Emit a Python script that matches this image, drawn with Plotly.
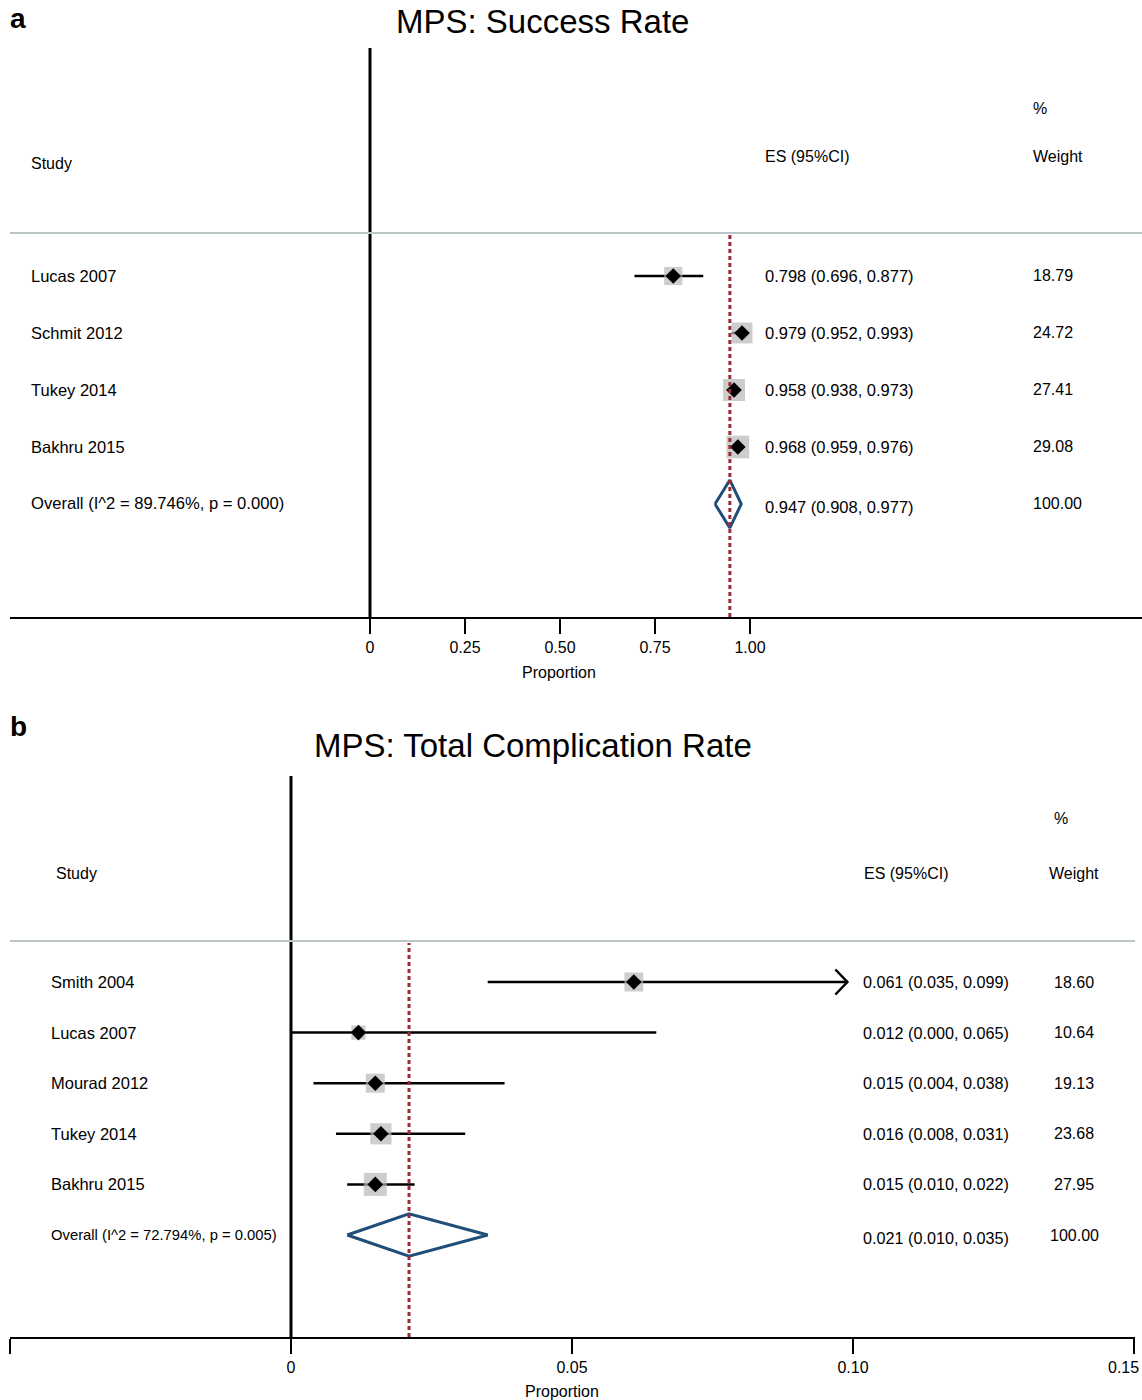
import math
import plotly.graph_objects as go

W, H = 1142, 1400
FONT = "Liberation Sans, Arial, sans-serif"

# ---------------- Panel a data ----------------
a_title = "MPS: Success Rate"
a_studies = ["Lucas 2007", "Schmit 2012", "Tukey 2014", "Bakhru 2015"]
a_es = [0.798, 0.979, 0.958, 0.968]
a_lo = [0.696, 0.952, 0.938, 0.959]
a_hi = [0.877, 0.993, 0.973, 0.976]
a_wt = [18.79, 24.72, 27.41, 29.08]
a_arrow = [False, False, False, False]
a_overall = [0.947, 0.908, 0.977]
a_overall_wt = 100.00
a_i2 = 89.746
a_p = 0.000
a_ticks = [0, 0.25, 0.50, 0.75, 1.00]
a_ticklabels = ["0", "0.25", "0.50", "0.75", "1.00"]

# ---------------- Panel b data ----------------
b_title = "MPS: Total Complication Rate"
b_studies = ["Smith 2004", "Lucas 2007", "Mourad 2012", "Tukey 2014", "Bakhru 2015"]
b_es = [0.061, 0.012, 0.015, 0.016, 0.015]
b_lo = [0.035, 0.000, 0.004, 0.008, 0.010]
b_hi = [0.099, 0.065, 0.038, 0.031, 0.022]
b_wt = [18.60, 10.64, 19.13, 23.68, 27.95]
b_arrow = [True, False, False, False, False]
b_overall = [0.021, 0.010, 0.035]
b_overall_wt = 100.00
b_i2 = 72.794
b_p = 0.005
b_ticks = [-0.05, 0, 0.05, 0.10, 0.15]
b_ticklabels = ["", "0", "0.05", "0.10", "0.15"]


def pyp(p):
    return 1 - p / H


def pxp(p):
    return p / W


panels = [
    dict(
        letter="a", title=a_title, studies=a_studies, es=a_es, lo=a_lo, hi=a_hi,
        wt=a_wt, arrow=a_arrow, overall=a_overall, owt=a_overall_wt, i2=a_i2, p=a_p,
        ticks=a_ticks, ticklabels=a_ticklabels,
        zero_px=370, unit_px=380, ax_left=10, ax_right=1142,
        axis_py=617, top_py=48, row0_py=276, row_step=57, sep_py=233,
        sep_right=1142, title_x=542, title_y=22, letter_y=18,
        study_x=31, es_x=765, wt_x=1033, wt_anchor="left",
        hdr_pct=(1033, 108, "left"), hdr_wt=(1033, 157, "left"),
        hdr_es=(765, 157), hdr_study=(31, 164),
        prop_x=559, prop_y=672, ticklab_y=647, sq_k=4.2, study_fs=16.5, overall_fs=16.6, es_fs=16.5,
        xa="x", ya="y",
    ),
    dict(
        letter="b", title=b_title, studies=b_studies, es=b_es, lo=b_lo, hi=b_hi,
        wt=b_wt, arrow=b_arrow, overall=b_overall, owt=b_overall_wt, i2=b_i2, p=b_p,
        ticks=b_ticks, ticklabels=b_ticklabels,
        zero_px=291, unit_px=5620, ax_left=10, ax_right=1134.5,
        axis_py=1337, top_py=776, row0_py=982, row_step=50.6, sep_py=941,
        sep_right=1135, title_x=533, title_y=745, letter_y=726,
        study_x=51, es_x=863, wt_x=1074, wt_anchor="center",
        hdr_pct=(1061, 818, "center"), hdr_wt=(1074, 873, "center"),
        hdr_es=(864, 873), hdr_study=(56, 873),
        prop_x=562, prop_y=1391, ticklab_y=1367, sq_k=4.35, study_fs=16.5, overall_fs=14.8, es_fs=16.2,
        xa="x2", ya="y2",
    ),
]

fig = go.Figure()
shapes = []
annotations = []
layout_axes = {}

DIAMOND_BLUE = "#1f4e79"
DASH_RED = "#9e2a35"
SQ_GRAY = "#b8b8b8"
SEP_GRAY = "#bcc6c9"

for P in panels:
    xa, ya = P["xa"], P["ya"]
    n = len(P["studies"])
    rows = list(range(n))
    orow = n
    rstep = P["row_step"]

    xr = [(P["ax_left"] - P["zero_px"]) / P["unit_px"], (P["ax_right"] - P["zero_px"]) / P["unit_px"]]
    yr = [(P["axis_py"] - P["row0_py"]) / rstep, (P["top_py"] - P["row0_py"]) / rstep]
    xkey = "xaxis" if xa == "x" else "xaxis2"
    ykey = "yaxis" if ya == "y" else "yaxis2"

    # tick labels whose centred text would run past the page edge are drawn
    # separately, right-aligned to the edge
    edge_labels = []
    shown_text = []
    for v, t in zip(P["ticks"], P["ticklabels"]):
        vpx = P["zero_px"] + v * P["unit_px"]
        if t and vpx + 4.5 * len(t) > W:
            edge_labels.append(t)
            shown_text.append("")
        else:
            shown_text.append(t)

    layout_axes[xkey] = dict(
        domain=[pxp(P["ax_left"]), min(1, pxp(P["ax_right"]))], range=xr, anchor=ya,
        showline=True, linecolor="black", linewidth=2, ticks="outside", ticklen=15,
        tickwidth=2, tickcolor="black", tickvals=P["ticks"], ticktext=shown_text,
        tickfont=dict(size=16, color="black", family=FONT), showgrid=False,
        ticklabeloverflow="allow",
        zeroline=False, automargin=False, fixedrange=True,
    )
    layout_axes[ykey] = dict(
        domain=[pyp(P["axis_py"]), pyp(P["top_py"])], range=yr, anchor=xa,
        visible=False, showgrid=False, zeroline=False, automargin=False, fixedrange=True,
    )

    # CI lines
    cx, cy = [], []
    for i in rows:
        cx += [P["lo"][i], P["hi"][i], None]
        cy += [i, i, None]
    fig.add_trace(go.Scatter(x=cx, y=cy, mode="lines", line=dict(color="black", width=2.5),
                             xaxis=xa, yaxis=ya, hoverinfo="skip", showlegend=False))
    # arrows
    ax_, ay_ = [], []
    d = 12 / P["unit_px"]
    h = 12.5 / rstep
    for i in rows:
        if P["arrow"][i]:
            ax_ += [P["hi"][i] - d, P["hi"][i], P["hi"][i] - d, None]
            ay_ += [i - h, i, i + h, None]
    if ax_:
        fig.add_trace(go.Scatter(x=ax_, y=ay_, mode="lines", line=dict(color="black", width=2.5),
                                 xaxis=xa, yaxis=ya, hoverinfo="skip", showlegend=False))
    # weight squares
    fig.add_trace(go.Scatter(
        x=P["es"], y=rows, mode="markers",
        marker=dict(symbol="square", color=SQ_GRAY,
                    size=[P["sq_k"] * math.sqrt(w) for w in P["wt"]], line=dict(width=0)),
        xaxis=xa, yaxis=ya, hoverinfo="skip", showlegend=False))
    # point estimates
    fig.add_trace(go.Scatter(
        x=P["es"], y=rows, mode="markers",
        marker=dict(symbol="diamond", color="black", size=12, line=dict(width=0)),
        xaxis=xa, yaxis=ya, hoverinfo="skip", showlegend=False))
    # overall diamond
    oe, olo, ohi = P["overall"]
    dh = 0.42
    fig.add_trace(go.Scatter(
        x=[olo, oe, ohi, oe, olo], y=[orow, orow - dh, orow, orow + dh, orow],
        mode="lines", line=dict(color=DIAMOND_BLUE, width=3),
        xaxis=xa, yaxis=ya, hoverinfo="skip", showlegend=False))

    shapes.append(dict(type="line", xref=xa, yref="paper", x0=0, x1=0,
                       y0=pyp(P["axis_py"]), y1=pyp(P["top_py"]),
                       line=dict(color="black", width=3)))
    shapes.append(dict(type="line", xref=xa, yref="paper", x0=oe, x1=oe,
                       y0=pyp(P["axis_py"]), y1=pyp(P["sep_py"] + 2),
                       line=dict(color=DASH_RED, width=3, dash="4px,3px")))
    shapes.append(dict(type="line", xref="paper", yref="paper", x0=pxp(10), x1=min(1, pxp(P["sep_right"])),
                       y0=pyp(P["sep_py"]), y1=pyp(P["sep_py"]),
                       line=dict(color=SEP_GRAY, width=2)))

    def txt(text, x_px, y, xanchor="left", size=16, yref="paper"):
        if xanchor == "left":
            x_px -= 2
        annotations.append(dict(text=text, x=pxp(x_px), y=y, xref="paper", yref=yref,
                                xanchor=xanchor, yanchor="middle", showarrow=False,
                                font=dict(size=size, color="black", family=FONT)))

    txt(P["title"], P["title_x"], pyp(P["title_y"]), xanchor="center", size=33)
    txt("<b>" + P["letter"] + "</b>", 10, pyp(P["letter_y"]), size=28)
    hx, hy, ha = P["hdr_pct"]
    txt("%", hx, pyp(hy), xanchor=ha)
    hx, hy, ha = P["hdr_wt"]
    txt("Weight", hx, pyp(hy), xanchor=ha)
    txt("ES (95%CI)", P["hdr_es"][0], pyp(P["hdr_es"][1]))
    txt("Study", P["hdr_study"][0], pyp(P["hdr_study"][1]))
    for i in rows:
        txt(P["studies"][i], P["study_x"], i, yref=ya, size=P["study_fs"])
        txt(f"{P['es'][i]:.3f} ({P['lo'][i]:.3f}, {P['hi'][i]:.3f})", P["es_x"], i,
            yref=ya, size=P["es_fs"])
        txt(f"{P['wt'][i]:.2f}", P["wt_x"], i, xanchor=P["wt_anchor"], yref=ya)
    txt(f"Overall (I^2 = {P['i2']:.3f}%, p = {P['p']:.3f})", P["study_x"], orow,
        yref=ya, size=P["overall_fs"])
    txt(f"{oe:.3f} ({olo:.3f}, {ohi:.3f})", P["es_x"], orow + 0.05, yref=ya, size=P["es_fs"])
    txt(f"{P['owt']:.2f}", P["wt_x"], orow, xanchor=P["wt_anchor"], yref=ya)
    txt("Proportion", P["prop_x"], pyp(P["prop_y"]), xanchor="center", size=16)
    for t in edge_labels:
        txt(t, W - 1, pyp(P["ticklab_y"]), xanchor="right", size=16)

fig.update_layout(
    width=W, height=H, margin=dict(l=0, r=0, t=0, b=0),
    paper_bgcolor="white", plot_bgcolor="white", template="none",
    shapes=shapes, annotations=annotations, showlegend=False,
    font=dict(family=FONT, color="black"),
    **layout_axes,
)

fig.write_html(
    "out.html",
    config={"displayModeBar": False, "staticPlot": True},
    post_script="document.body.style.margin='0px';document.body.style.overflow='hidden';",
)
